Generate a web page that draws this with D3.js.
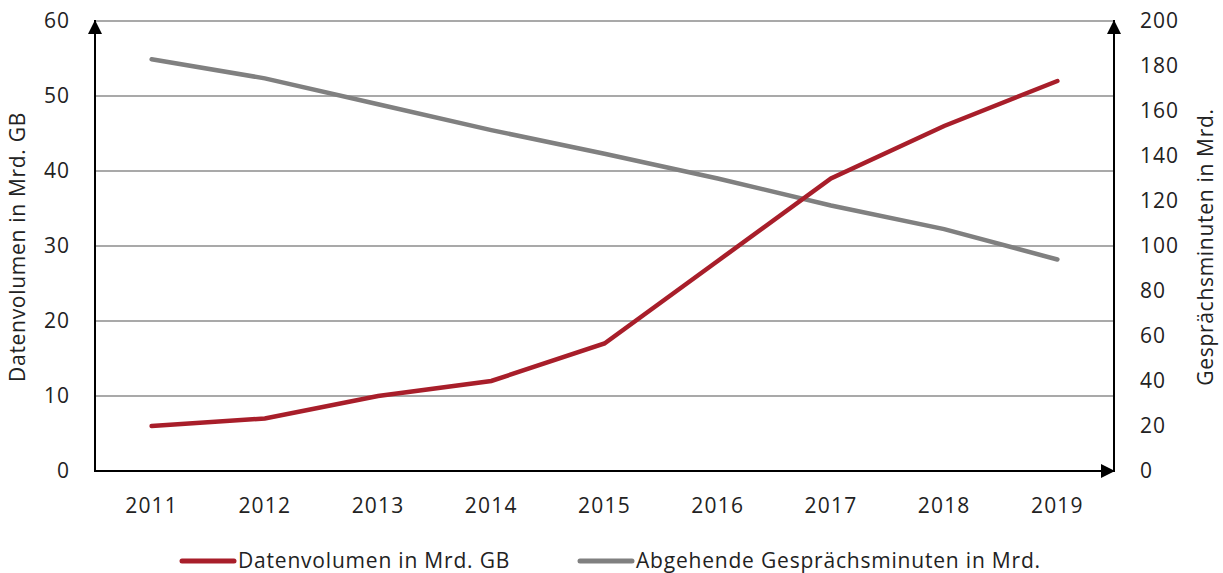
<!DOCTYPE html>
<html><head><meta charset="utf-8">
<script src="https://cdn.jsdelivr.net/npm/d3@7"></script>
<style>body{margin:0;background:#fff}svg{display:block}text{font-family:"Open Sans",sans-serif;fill:#222}</style>
</head><body>
<script>
const years = ["2011","2012","2013","2014","2015","2016","2017","2018","2019"];
const datenvolumen = [6,7,10,12,17,28,39,46,52];
const minuten = [183,174.5,163,151.5,141,130,118,107.5,94];
const leftTicks = [0,10,20,30,40,50,60];
const rightTicks = [0,20,40,60,80,100,120,140,160,180,200];
const seriesNames = ["Datenvolumen in Mrd. GB","Abgehende Gesprächsminuten in Mrd."];
const colors = ["#A81E2A","#808080"];

const W=1223,H=573;
const L=95,R=1114,T=21,B=471;
const svg=d3.select("body").append("svg").attr("width",W).attr("height",H);
const x=d3.scaleBand().domain(years).range([L,R]);
const yL=d3.scaleLinear().domain([0,60]).range([B,T]);
const yR=d3.scaleLinear().domain([0,200]).range([B,T]);
const fs=21;

// gridlines
svg.append("g").selectAll("line").data(leftTicks.filter(d=>d>0)).join("line")
 .attr("x1",L).attr("x2",R).attr("y1",d=>yL(d)).attr("y2",d=>yL(d))
 .attr("stroke","#8c8c8c").attr("stroke-width",1.5);

// markers
const defs=svg.append("defs");
defs.append("marker").attr("id","arr").attr("viewBox","0 0 10 10").attr("refX",10).attr("refY",5)
 .attr("markerWidth",7).attr("markerHeight",7).attr("markerUnits","strokeWidth").attr("orient","auto")
 .append("path").attr("d","M0,0L10,5L0,10z").attr("fill","#000");

// axes lines
svg.append("line").attr("x1",L).attr("y1",B+1).attr("x2",L).attr("y2",T-1).attr("stroke","#000").attr("stroke-width",2).attr("marker-end","url(#arr)");
svg.append("line").attr("x1",R).attr("y1",B+1).attr("x2",R).attr("y2",T-1).attr("stroke","#000").attr("stroke-width",2).attr("marker-end","url(#arr)");
svg.append("line").attr("x1",L-1).attr("y1",B).attr("x2",R+1).attr("y2",B).attr("stroke","#000").attr("stroke-width",2).attr("marker-end","url(#arr)");

// tick labels
svg.append("g").selectAll("text").data(leftTicks).join("text")
 .attr("x",70).attr("y",d=>yL(d)).attr("dy","0.35em").attr("text-anchor","end").attr("font-size",fs).attr("letter-spacing",1).text(d=>d);
svg.append("g").selectAll("text").data(rightTicks).join("text")
 .attr("x",1140).attr("y",d=>yR(d)).attr("dy","0.35em").attr("text-anchor","start").attr("font-size",fs).attr("letter-spacing",1).text(d=>d);
svg.append("g").selectAll("text").data(years).join("text")
 .attr("x",d=>x(d)+x.bandwidth()/2).attr("y",506).attr("dy","0.35em").attr("text-anchor","middle").attr("font-size",fs).attr("letter-spacing",1.2).text(d=>d);

// axis titles
svg.append("text").attr("transform","translate(25,247) rotate(-90)").attr("text-anchor","middle").attr("font-size",fs).attr("letter-spacing",0.7).text(seriesNames[0]);
svg.append("text").attr("transform","translate(1213,247) rotate(-90)").attr("text-anchor","middle").attr("font-size",fs).attr("letter-spacing",0.7).text("Gesprächsminuten in Mrd.");

// lines
const cx=d=>x(d)+x.bandwidth()/2;
svg.append("path").datum(years.map((d,i)=>[cx(d),yR(minuten[i])]))
 .attr("d",d3.line()).attr("fill","none").attr("stroke",colors[1]).attr("stroke-width",4.5).attr("stroke-linecap","round");
svg.append("path").datum(years.map((d,i)=>[cx(d),yL(datenvolumen[i])]))
 .attr("d",d3.line()).attr("fill","none").attr("stroke",colors[0]).attr("stroke-width",4.5).attr("stroke-linecap","round");

// legend
const leg=[{x:182,name:seriesNames[0],c:colors[0]},{x:580,name:seriesNames[1],c:colors[1]}];
leg.forEach(l=>{
 svg.append("line").attr("x1",l.x).attr("x2",l.x+52).attr("y1",561).attr("y2",561).attr("stroke",l.c).attr("stroke-width",5).attr("stroke-linecap","round");
 svg.append("text").attr("x",l.x+56).attr("y",561).attr("dy","0.35em").attr("font-size",fs).attr("letter-spacing",0.8).text(l.name);
});
</script>
</body></html>
